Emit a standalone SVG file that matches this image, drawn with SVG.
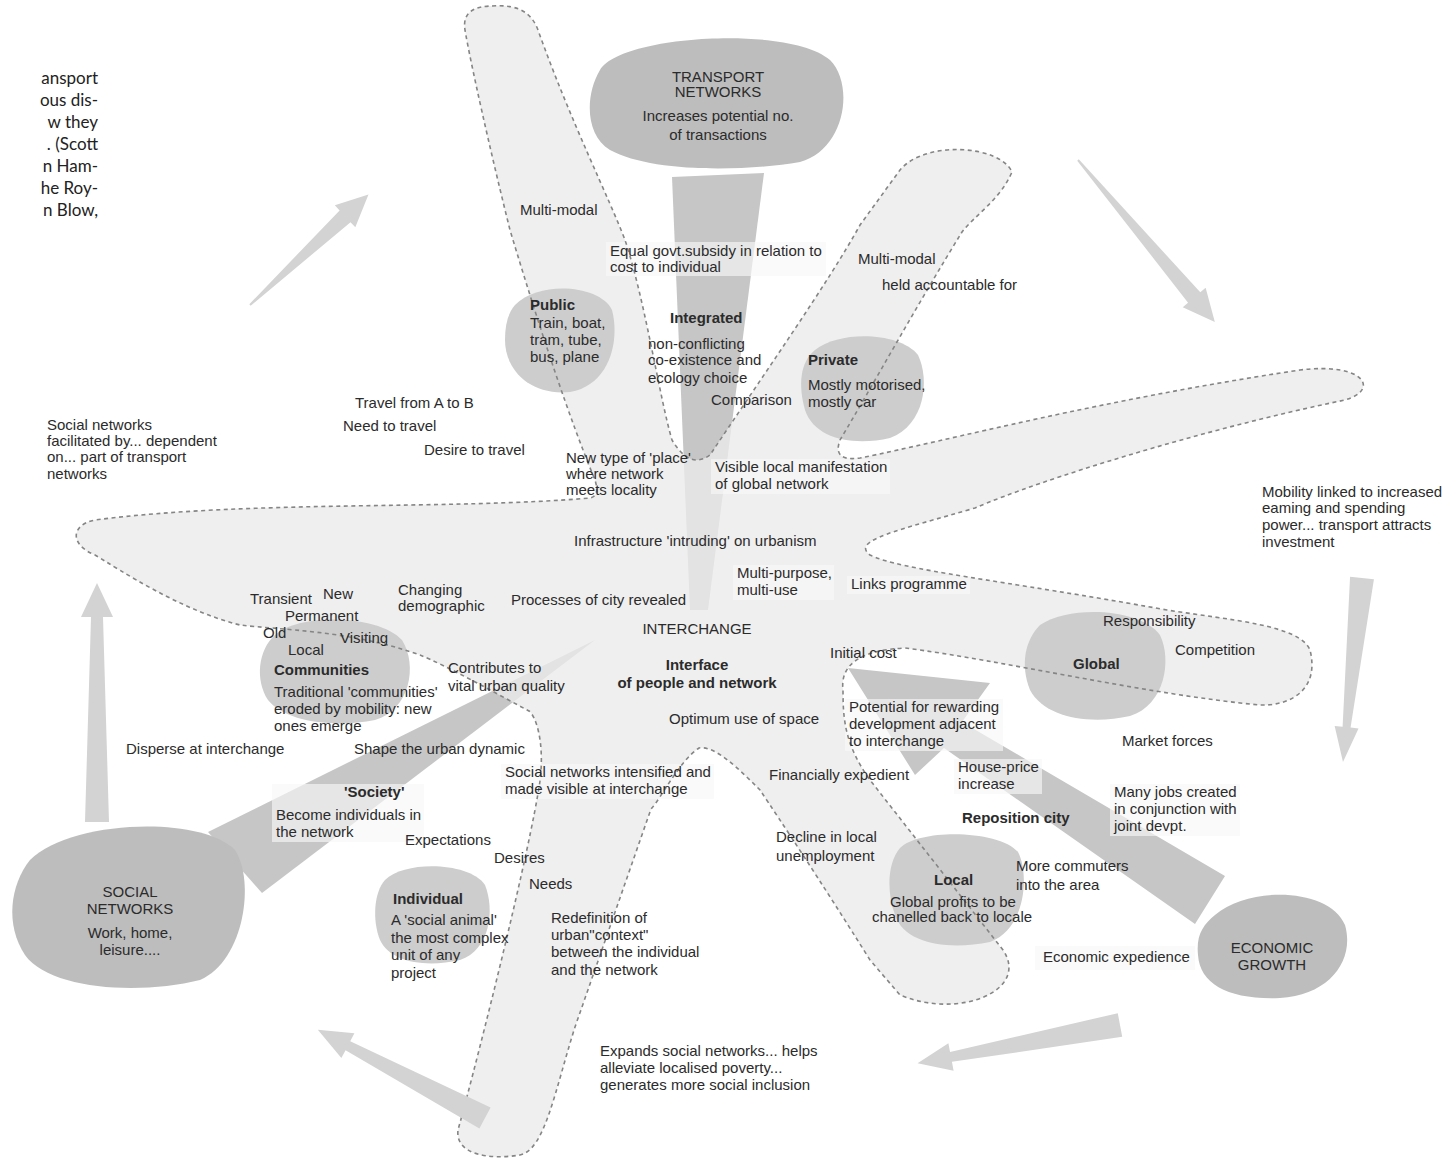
<svg xmlns="http://www.w3.org/2000/svg" width="1450" height="1159" viewBox="0 0 1450 1159">
<style>
text{font-family:"Liberation Sans",Arial,sans-serif;font-size:15px;fill:#2b2b2b}
.b{font-weight:bold}
.c{text-anchor:middle}
.para{font-family:Lato,"Open Sans",sans-serif;font-size:17px;fill:#222;text-anchor:end}
.star{fill:#ebebeb;fill-opacity:0.78;stroke:none}
.starline{fill:none;stroke:#858585;stroke-width:1.6;stroke-dasharray:4 3.5}
.wedge{fill:#c6c6c6}
.big{fill:#bdbdbd}
.sub{fill:#cdcdcd}
.parr{fill:#d3d3d3}
.tb{fill:#f8f8f8;fill-opacity:0.65}
</style>
<defs>
<path id="starpath" d="M492,6 C520,4 532,14 538,30 C570,120 610,200 625,240 C645,300 660,400 672,440 Q690,470 710,455 C760,380 830,280 860,225 L900,170 C925,140 1000,145 1012,172 C1000,200 975,215 962,232 C920,300 870,390 840,440 Q832,462 860,458 C950,440 1100,400 1300,370 C1365,362 1380,390 1345,400 C1200,430 1040,480 975,508 C900,530 850,540 870,555 C900,570 1000,580 1167,610 C1230,620 1300,625 1310,650 C1320,690 1290,706 1260,705 C1150,695 1000,660 905,648 C860,650 840,665 843,690 C843,720 845,745 870,780 L1003,950 C1030,990 960,1020 900,995 L870,960 C820,880 780,820 760,790 C740,770 715,745 699,748 C680,760 660,800 651,809 L575,1027 C555,1090 545,1150 520,1155 C490,1160 455,1155 458,1130 C480,1050 530,850 540,781 C545,740 535,715 529,711 C490,690 447,666 420,655 C350,630 280,630 240,625 C180,610 120,570 95,555 C70,545 70,525 95,520 C250,500 450,510 590,498 Q600,496 595,480 C570,420 540,330 510,230 C490,150 470,60 465,30 C462,12 475,6 492,6 Z"/>
</defs>
<rect width="1450" height="1159" fill="#fff"/>
<g id="paragraph">
<text class="para" x="98" y="84">ansport</text>
<text class="para" x="98" y="106">ous dis-</text>
<text class="para" x="98" y="128">w they</text>
<text class="para" x="98" y="150">. (Scott</text>
<text class="para" x="98" y="172">n Ham-</text>
<text class="para" x="98" y="194">he Roy-</text>
<text class="para" x="98" y="216">n Blow,</text>
</g>
<g id="wedges">
<path class="wedge" d="M672,177 L764,173 L708,610 L690,610 Z"/>
<path class="wedge" d="M208,832 L595,640 L262,893 Z"/>
<path class="wedge" d="M848,668 L990,683 L962,722 L1225,876 L1195,924 L944,748 L915,775 Z"/>
</g>
<g id="star-fill">
<use href="#starpath" class="star"/>
</g>
<g id="transport-networks">
<path class="big" d="M600,70 C620,35 790,25 830,60 C855,85 845,150 800,162 C740,172 650,172 610,150 C585,135 585,95 600,70 Z"/>
<text class="c" x="718" y="82">TRANSPORT</text>
<text class="c" x="718" y="97">NETWORKS</text>
<text class="c" x="718" y="121">Increases potential no.</text>
<text class="c" x="718" y="140">of transactions</text>
</g>
<g id="social-networks">
<path class="big" d="M30,860 C70,820 200,815 235,850 C255,880 245,960 200,980 C140,995 50,990 25,955 C5,925 10,885 30,860 Z"/>
<text class="c" x="130" y="897">SOCIAL</text>
<text class="c" x="130" y="914">NETWORKS</text>
<text class="c" x="130" y="938">Work, home,</text>
<text class="c" x="130" y="955">leisure....</text>
</g>
<g id="economic-growth">
<path class="big" d="M1215,915 C1250,885 1330,888 1345,925 C1355,960 1330,995 1280,998 C1230,1000 1200,985 1198,955 C1196,935 1203,925 1215,915 Z"/>
<text class="c" x="1272" y="953">ECONOMIC</text>
<text class="c" x="1272" y="970">GROWTH</text>
</g>
<g id="sub-blobs">
<path id="public-blob" class="sub" d="M515,305 C540,280 600,285 612,310 C620,340 610,385 570,392 C530,396 505,370 505,340 C505,325 508,313 515,305 Z"/>
<path id="private-blob" class="sub" d="M815,350 C840,330 900,332 918,355 C930,380 925,425 890,438 C855,446 815,440 805,410 C798,385 800,362 815,350 Z"/>
<path id="communities-blob" class="sub" d="M275,635 C300,612 380,615 402,640 C418,665 410,710 375,720 C335,728 285,722 268,700 C255,680 258,650 275,635 Z"/>
<path id="global-blob" class="sub" d="M1040,625 C1070,605 1140,608 1160,635 C1172,660 1165,705 1130,716 C1090,725 1045,718 1030,690 C1020,665 1025,640 1040,625 Z"/>
<path id="individual-blob" class="sub" d="M385,880 C405,860 470,862 485,885 C495,910 490,950 460,960 C425,968 390,962 380,940 C372,920 374,892 385,880 Z"/>
<path id="local-blob" class="sub" d="M900,848 C920,828 1000,830 1018,852 C1030,875 1025,930 990,942 C950,950 905,945 895,915 C886,890 888,862 900,848 Z"/>
</g>
<g id="text-backgrounds">
<rect class="tb" x="606" y="242" width="220" height="34"/>
<rect class="tb" x="711" y="459" width="179" height="35"/>
<rect class="tb" x="733" y="565" width="101" height="35"/>
<rect class="tb" x="847" y="576" width="123" height="18"/>
<rect class="tb" x="845" y="699" width="158" height="52"/>
<rect class="tb" x="954" y="759" width="88" height="35"/>
<rect class="tb" x="1110" y="784" width="130" height="52"/>
<rect class="tb" x="501" y="764" width="213" height="35"/>
<rect class="tb" x="272" y="784" width="152" height="58"/>
<rect class="tb" x="1035" y="946" width="160" height="24"/>
</g>
<g id="star-outline">
<use href="#starpath" class="starline"/>
</g>
<g id="connectors">
<polygon class="parr" points="0,-1 130,-8 130,-15 162,0 130,15 130,8 0,1" transform="translate(250,305) rotate(-43)"/>
<polygon class="parr" points="0,-1 180,-8 180,-15 212,0 180,15 180,8 0,1" transform="translate(1078,160) rotate(49.8)"/>
<polygon class="parr" points="0,-12 150,-4 150,-12 185,0 150,12 150,4 0,12" transform="translate(1362,578) rotate(95.9)"/>
<polygon class="parr" points="0,-12 172,-5 172,-14 206,0 172,14 172,5 0,12" transform="translate(1120,1025) rotate(169.3)"/>
<polygon class="parr" points="0,-12 155,-5 155,-14 189,0 155,14 155,5 0,12" transform="translate(485,1118) rotate(207.8)"/>
<polygon class="parr" points="0,-12 205,-6 205,-16 239,0 205,16 205,6 0,12" transform="translate(97,822) rotate(-90)"/>
</g>
<g id="labels">
<text x="520" y="215">Multi-modal</text>
<text x="610" y="256">Equal govt.subsidy in relation to</text>
<text x="610" y="272">cost to individual</text>
<text x="858" y="264">Multi-modal</text>
<text x="882" y="290">held accountable for</text>
<text class="b" x="530" y="310">Public</text>
<text x="530" y="328">Train, boat,</text>
<text x="530" y="345">tram, tube,</text>
<text x="530" y="362">bus, plane</text>
<text class="b" x="670" y="323">Integrated</text>
<text x="648" y="349">non-conflicting</text>
<text x="648" y="365">co-existence and</text>
<text x="648" y="383">ecology choice</text>
<text x="711" y="405">Comparison</text>
<text class="b" x="808" y="365">Private</text>
<text x="808" y="390">Mostly motorised,</text>
<text x="808" y="407">mostly car</text>
<text x="355" y="408">Travel from A to B</text>
<text x="343" y="431">Need to travel</text>
<text x="424" y="455">Desire to travel</text>
<text x="47" y="430">Social networks</text>
<text x="47" y="446">facilitated by... dependent</text>
<text x="47" y="462">on... part of transport</text>
<text x="47" y="479">networks</text>
<text x="566" y="463">New type of 'place'</text>
<text x="566" y="479">where network</text>
<text x="566" y="495">meets locality</text>
<text x="715" y="472">Visible local manifestation</text>
<text x="715" y="489">of global network</text>
<text x="574" y="546">Infrastructure 'intruding' on urbanism</text>
<text x="737" y="578">Multi-purpose,</text>
<text x="737" y="595">multi-use</text>
<text x="851" y="589">Links programme</text>
<text x="1262" y="497">Mobility linked to increased</text>
<text x="1262" y="513">eaming and spending</text>
<text x="1262" y="530">power... transport attracts</text>
<text x="1262" y="547">investment</text>
<text x="250" y="604">Transient</text>
<text x="323" y="599">New</text>
<text x="285" y="621">Permanent</text>
<text x="398" y="595">Changing</text>
<text x="398" y="611">demographic</text>
<text x="511" y="605">Processes of city revealed</text>
<text class="c" x="697" y="634">INTERCHANGE</text>
<text x="1103" y="626">Responsibility</text>
<text x="1175" y="655">Competition</text>
<text x="263" y="638">Old</text>
<text x="288" y="655">Local</text>
<text x="340" y="643">Visiting</text>
<text class="b" x="274" y="675">Communities</text>
<text x="274" y="697">Traditional 'communities'</text>
<text x="274" y="714">eroded by mobility: new</text>
<text x="274" y="731">ones emerge</text>
<text x="448" y="673">Contributes to</text>
<text x="448" y="691">vital urban quality</text>
<text class="b c" x="697" y="670">Interface</text>
<text class="b c" x="697" y="688">of people and network</text>
<text x="830" y="658">Initial cost</text>
<text class="b" x="1073" y="669">Global</text>
<text x="669" y="724">Optimum use of space</text>
<text x="849" y="712">Potential for rewarding</text>
<text x="849" y="729">development adjacent</text>
<text x="849" y="746">to interchange</text>
<text x="1122" y="746">Market forces</text>
<text x="126" y="754">Disperse at interchange</text>
<text x="354" y="754">Shape the urban dynamic</text>
<text x="505" y="777">Social networks intensified and</text>
<text x="505" y="794">made visible at interchange</text>
<text x="769" y="780">Financially expedient</text>
<text x="958" y="772">House-price</text>
<text x="958" y="789">increase</text>
<text class="b" x="344" y="797">'Society'</text>
<text x="276" y="820">Become individuals in</text>
<text x="276" y="837">the network</text>
<text x="1114" y="797">Many jobs created</text>
<text x="1114" y="814">in conjunction with</text>
<text x="1114" y="831">joint devpt.</text>
<text class="b" x="962" y="823">Reposition city</text>
<text x="405" y="845">Expectations</text>
<text x="776" y="842">Decline in local</text>
<text x="776" y="861">unemployment</text>
<text x="494" y="863">Desires</text>
<text x="1016" y="871">More commuters</text>
<text x="1016" y="890">into the area</text>
<text x="529" y="889">Needs</text>
<text class="b" x="934" y="885">Local</text>
<text x="890" y="907">Global profits to be</text>
<text x="872" y="922">chanelled back to locale</text>
<text class="b" x="393" y="904">Individual</text>
<text x="391" y="925">A 'social animal'</text>
<text x="391" y="943">the most complex</text>
<text x="391" y="960">unit of any</text>
<text x="391" y="978">project</text>
<text x="551" y="923">Redefinition of</text>
<text x="551" y="940">urban"context"</text>
<text x="551" y="957">between the individual</text>
<text x="551" y="975">and the network</text>
<text x="1043" y="962">Economic expedience</text>
<text x="600" y="1056">Expands social networks... helps</text>
<text x="600" y="1073">alleviate localised poverty...</text>
<text x="600" y="1090">generates more social inclusion</text>
</g>
</svg>
